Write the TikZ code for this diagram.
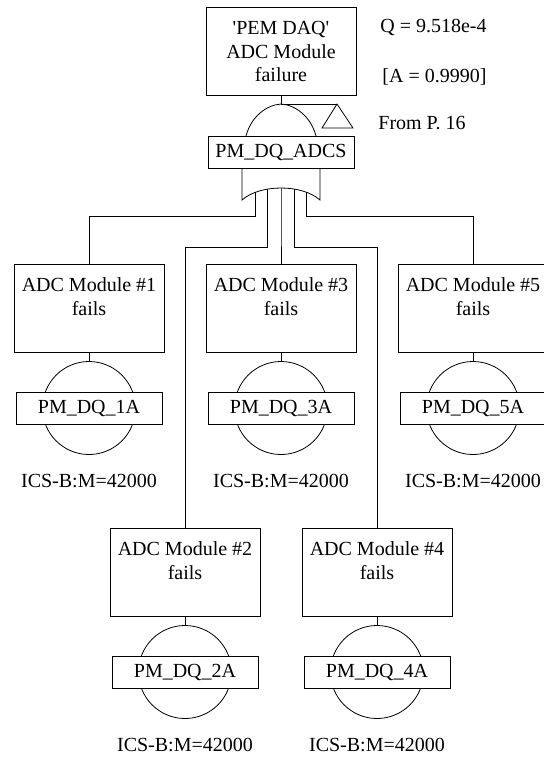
\documentclass[tikz,border=0pt]{standalone}
\usepackage{fontspec}
\setmainfont{Liberation Serif}
\usetikzlibrary{positioning}

\begin{document}
\begin{tikzpicture}[x=0.5pt, y=-0.5pt,
    font=\fontsize{10}{11.75}\selectfont,
    every node/.style={inner sep=0pt},
    evbox/.style={draw, rectangle, minimum width=75pt, minimum height=44pt, align=center},
    idbox/.style={draw, rectangle, fill=white, minimum width=73pt, minimum height=16pt},
    bcirc/.style={draw, circle, minimum size=46.5pt},
    tag/.style={align=center}]
  \useasboundingbox (0,0) rectangle (544,757);

  \node[evbox] (top) at (281,51.5) {\textquotesingle PEM DAQ\textquotesingle\\ADC Module\\failure};
  \node[anchor=west] (qval) at (380,27) {Q = 9.518e-4};
  \node[anchor=west] (aval) at (382,77) {[A = 0.9990]};
  \node[anchor=west] (from) at (378,123) {From P. 16};

  % OR gate with transfer-in
  \coordinate (apex) at (281,104);
  \coordinate (xfer) at (337,104);
  \draw (top) -- (apex) -- (xfer);
  \draw (xfer) -- ++(16,24) -- ++(-31,0) -- cycle;
  \draw (246,136) .. controls (251,117) and (266,105) .. (apex)
    .. controls (296,105) and (311,117) .. (316,136);
  \node[idbox] (adcs) at (281,152) {PM\_DQ\_ADCS};
  \draw (242,168) -- (242,200)
    .. controls (260,184) and (302,184) ..
      coordinate[pos=0.2] (g1) coordinate[pos=0.35] (g2) coordinate[pos=0.5] (g3)
      coordinate[pos=0.65] (g4) coordinate[pos=0.8] (g5) (320,200)
    -- (320,168);

  % basic events
  \foreach \n/\x/\y in {1/89/264, 2/185/528, 3/281/264, 4/377/528, 5/473/264} {
    \node[evbox, anchor=north] (ev\n) at (\x,\y) {ADC Module \#\n\\fails\\~};
    \node[bcirc] (be\n) at (\x,\y+144) {};
    \node[idbox] (id\n) at (be\n) {PM\_DQ\_\n A};
    \node[tag] (tag\n) at (\x,\y+217) {ICS-B:M=42000};
    \draw (ev\n) -- (be\n);
  }

  \foreach \n/\h in {1/216, 2/247, 3/230, 4/247, 5/216}
    \draw (g\n) |- (ev\n.north |- 0,\h) -- (ev\n.north);
\end{tikzpicture}
\end{document}
